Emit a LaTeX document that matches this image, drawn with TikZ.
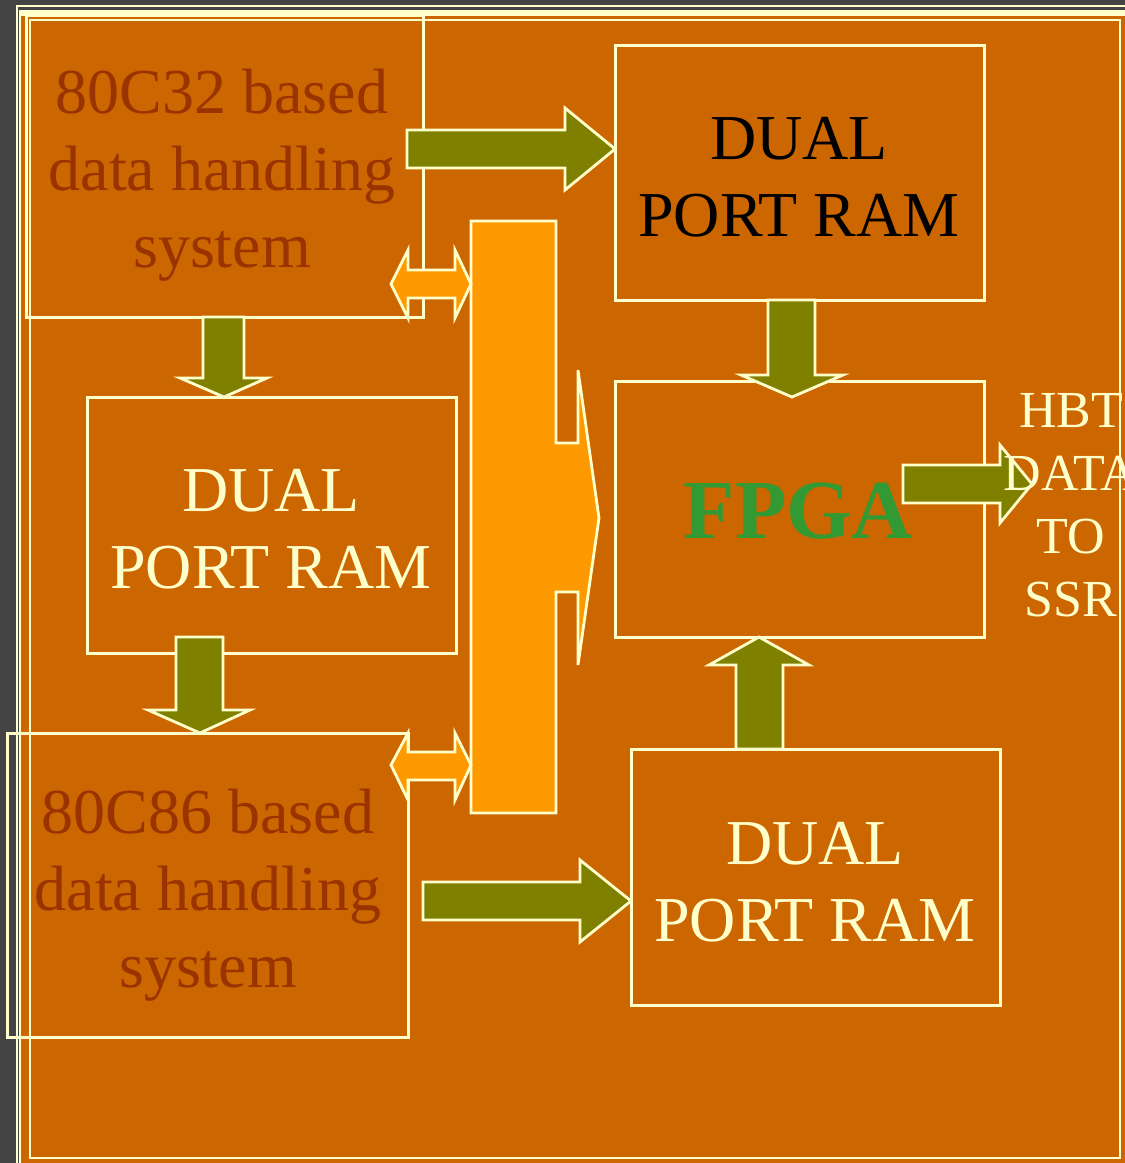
\documentclass[tikz,border=0pt]{standalone}
\usepackage{fontspec}
\setmainfont{Liberation Serif}
\definecolor{bgorange}{HTML}{CC6600}
\definecolor{cream}{HTML}{FFFFCC}
\definecolor{olivec}{HTML}{808000}
\definecolor{busorange}{HTML}{FF9900}
\definecolor{brownt}{HTML}{993300}
\definecolor{fpgagreen}{HTML}{339933}
\definecolor{darkbg}{HTML}{444444}
\tikzset{
  boxline/.style={draw=cream, line width=3pt, inner sep=0pt},
  blockarrow/.style={fill=olivec, draw=cream, line width=2.8pt, line join=miter},
  busarrow/.style={fill=busorange, draw=cream, line width=2.8pt, line join=miter},
  bigtext/.style={font=\fontsize{64}{77}\selectfont, align=center, inner sep=0pt},
}
\begin{document}
\begin{tikzpicture}[x=1pt,y=-1pt]
% page and frame
\fill[darkbg] (0,0) rectangle (1125,1163);
\useasboundingbox (0,0) rectangle (1125,1163);
\draw[cream, line width=2pt] (16.5,1163) -- (16.5,6) -- (1125,6);
\fill[cream] (19,10) rectangle (1125,16);
\fill[bgorange] (19.5,16) rectangle (1125,1163);
\draw[cream, line width=1.5pt] (20,16) -- (20,1163);
\draw[cream, line width=2.8pt] (30,20) rectangle (1120,1158);
% boxes
\node[boxline, minimum width=397pt, minimum height=302pt] (c32) at (224.5,166) {};
\node[boxline, minimum width=369pt, minimum height=255pt] (dprtop) at (799.5,172.5) {};
\node[boxline, minimum width=369pt, minimum height=256pt] (dprmid) at (271.5,525) {};
\node[boxline, minimum width=369pt, minimum height=256pt] (fpga) at (799.5,509) {};
\node[boxline, minimum width=401pt, minimum height=304pt] (c86) at (207.5,885) {};
\node[boxline, minimum width=369pt, minimum height=256pt] (dprbot) at (815.5,877) {};
% texts
\node[bigtext, text=brownt] (t32) at (222,175) {80C32 based\\data handling\\system};
\node[bigtext, text=black] (ttop) at (799,177.5) {DUAL\\PORT RAM};
\node[bigtext, text=cream] (tmid) at (271,529) {DUAL\\PORT RAM};
\node[inner sep=0pt, text=fpgagreen, font=\fontsize{84}{90}\selectfont\bfseries] (tf) at (798,511) {FPGA};
\node[bigtext, text=brownt] (t86) at (208,895) {80C86 based\\data handling\\system};
\node[bigtext, text=cream] (tbot) at (815,882) {DUAL\\PORT RAM};
% olive block arrows
\draw[blockarrow] (407,130) -- (565,130) -- (565,108) -- (615,149) -- (565,190) -- (565,168) -- (407,168) -- cycle;
\draw[blockarrow] (203,317) -- (244,317) -- (244,378) -- (267,378) -- (224,397) -- (180,378) -- (203,378) -- cycle;
\draw[blockarrow] (176,637) -- (223,637) -- (223,710) -- (250,710) -- (200,733) -- (148,710) -- (176,710) -- cycle;
\draw[blockarrow] (768,300) -- (815,300) -- (815,375) -- (843,375) -- (792,397) -- (741,375) -- (768,375) -- cycle;
\draw[blockarrow] (736,749) -- (736,665) -- (709,665) -- (759,637) -- (809,665) -- (783,665) -- (783,749) -- cycle;
\draw[blockarrow] (903,465) -- (1000,465) -- (1000,445) -- (1032,484) -- (1000,523) -- (1000,503) -- (903,503) -- cycle;
\draw[blockarrow] (423,882) -- (580,882) -- (580,860) -- (631,901) -- (580,942) -- (580,920) -- (423,920) -- cycle;
% bus and double arrows
\draw[busarrow] (471,221) -- (556,221) -- (556,443) -- (578,443) -- (578,370) -- (599,518) -- (578,665) -- (578,592) -- (556,592) -- (556,813) -- (471,813) -- cycle;
\draw[busarrow] (391,284) -- (408,250) -- (408,270) -- (455,270) -- (455,250) -- (471,284) -- (455,318) -- (455,298) -- (408,298) -- (408,318) -- cycle;
\draw[busarrow] (391,765) -- (408,733) -- (408,752) -- (455,752) -- (455,733) -- (471,765) -- (455,800) -- (455,780) -- (408,780) -- (408,800) -- cycle;
% output label
\node[font=\fontsize{52}{63}\selectfont, align=center, inner sep=0pt, text=cream] (hbt) at (1071,505) {HBT\\DATA\\TO\\SSR};
\end{tikzpicture}
\end{document}
